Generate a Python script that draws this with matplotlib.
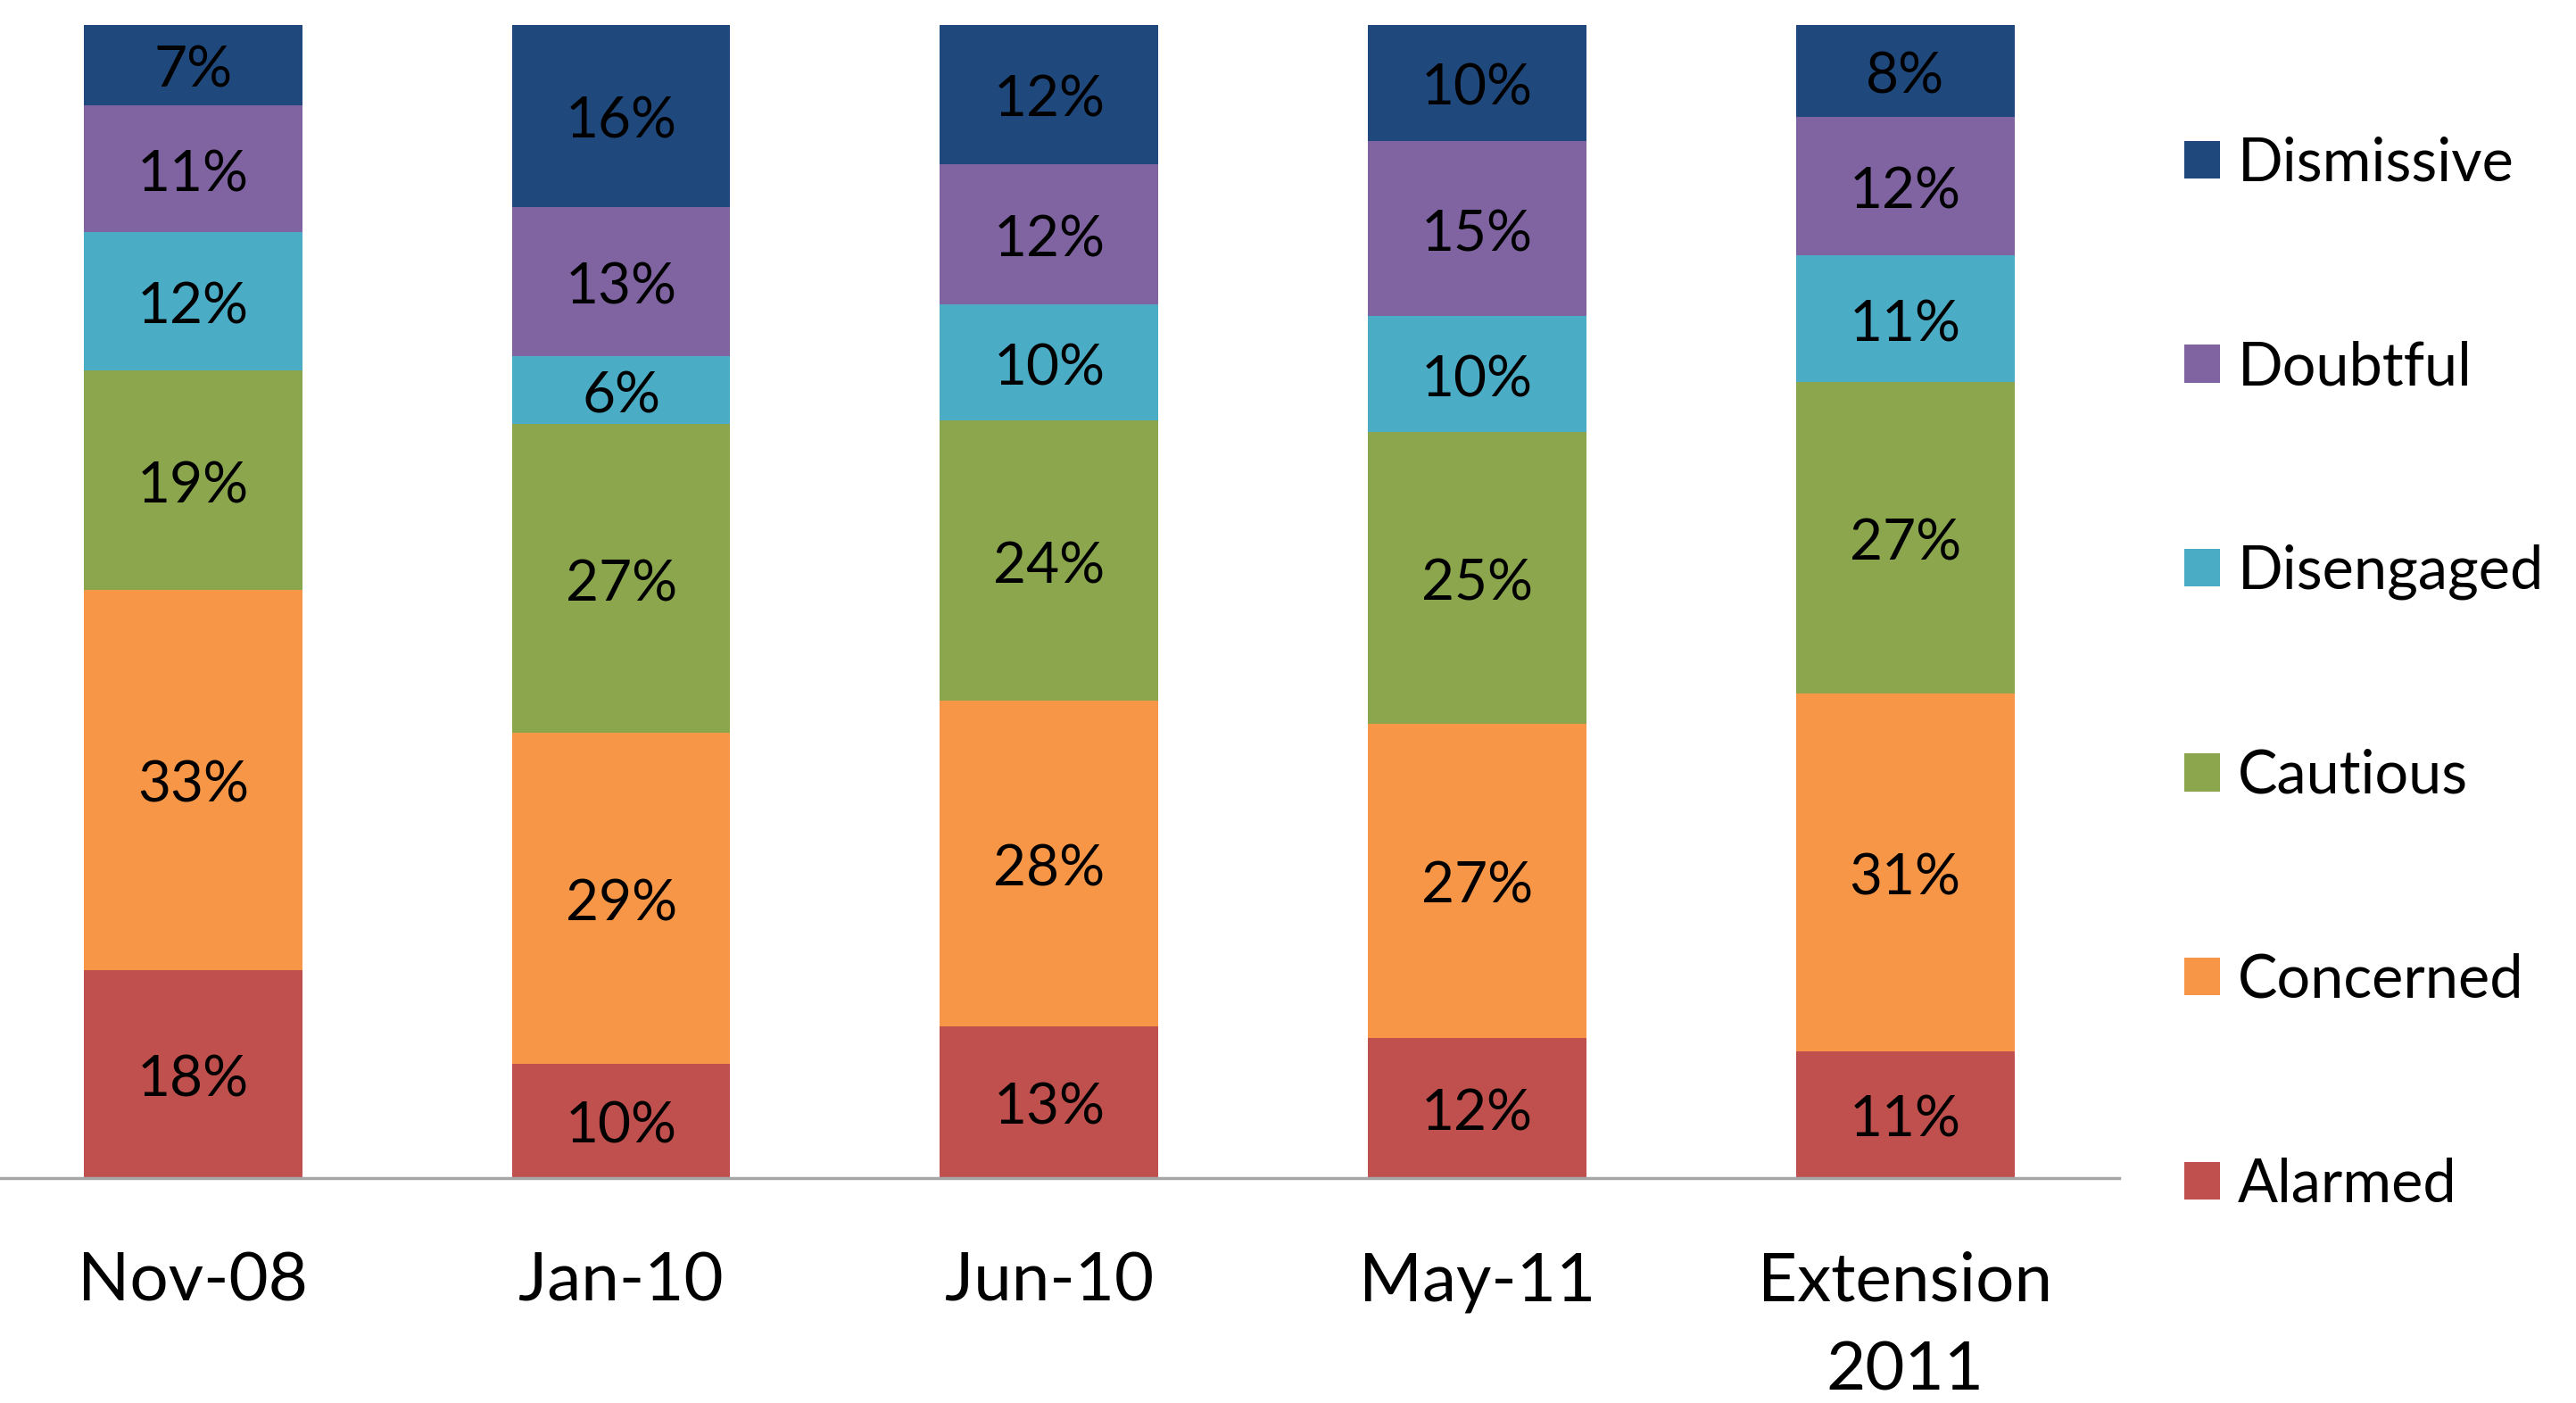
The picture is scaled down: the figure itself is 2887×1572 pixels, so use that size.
import matplotlib.pyplot as plt
import numpy as np
from matplotlib.patches import Patch

# survey waves
waves = ["Nov-08", "Jan-10", "Jun-10", "May-11", "Extension\n2011"]

# segments, bottom to top (percent of respondents)
alarmed = [18, 10, 13, 12, 11]
concerned = [33, 29, 28, 27, 31]
cautious = [19, 27, 24, 25, 27]
disengaged = [12, 6, 10, 10, 11]
doubtful = [11, 13, 12, 15, 12]
dismissive = [7, 16, 12, 10, 8]

segments = ["Alarmed", "Concerned", "Cautious", "Disengaged", "Doubtful", "Dismissive"]
colors = ["#C0504D", "#F79646", "#8BA64C", "#4BACC6", "#8064A2", "#1F497D"]
series = [alarmed, concerned, cautious, disengaged, doubtful, dismissive]

font = ["Lato", "DejaVu Sans"]

fig = plt.figure(figsize=(28.87, 15.72), dpi=100)
ax = fig.add_axes([-0.00813, 0.1604, 0.8308, 0.822])

vals = np.array(series, dtype=float)
totals = vals.sum(axis=0)
shares = vals / totals * 100  # 100% stacked

x = np.arange(len(waves))
bottom = np.zeros(len(waves))
for name, col, raw, share in zip(segments, colors, series, shares):
    bars = ax.bar(x, share, width=0.51, bottom=bottom, color=col, label=name)
    texts = ax.bar_label(bars, labels=[f"{v}%" for v in raw], label_type="center",
                         fontsize=46, family=font, color="black")
    for t in texts:
        t.xyann = (0, -5)
    bottom += share

ax.set_xlim(-0.5, len(waves) - 0.5)
ax.set_ylim(0, 100)
ax.set_yticks([])
ax.set_xticks(x)
ax.set_xticklabels(waves, fontsize=55, family=font, linespacing=1.55)
ax.tick_params(axis="x", length=0, pad=59)
for side in ["top", "right", "left"]:
    ax.spines[side].set_visible(False)
ax.spines["bottom"].set_color("#A6A6A6")
ax.spines["bottom"].set_linewidth(2.5)

handles = [Patch(facecolor=c, label=n) for n, c in zip(segments, colors)][::-1]
fig.legend(handles=handles, loc="center left", bbox_to_anchor=(0.848, 0.5195),
           frameon=False, borderpad=0, borderaxespad=0,
           handlelength=0.6, handleheight=0.6, handletextpad=0.3,
           labelspacing=2.5, prop={"family": font, "size": 48})

fig.savefig("out.png", dpi=100)
